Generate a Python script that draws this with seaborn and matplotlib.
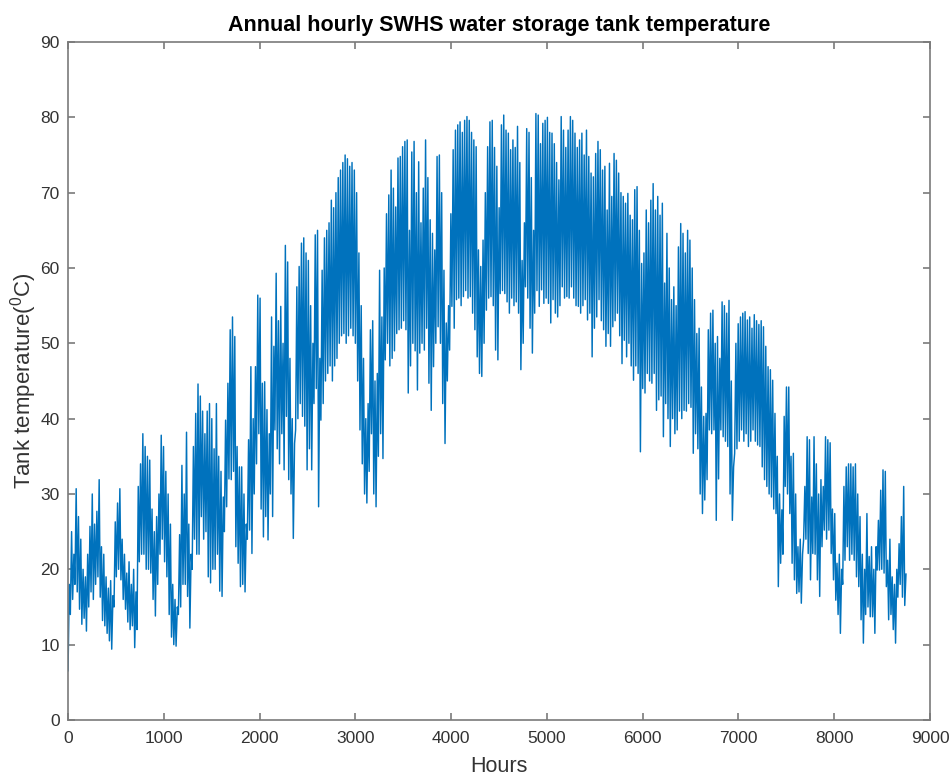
import numpy as np
import pandas as pd
import matplotlib
matplotlib.use("Agg")
import matplotlib.pyplot as plt
import seaborn as sns

# Daily peak and trough of the storage tank temperature (deg C), one entry per day
day_max = [
    18, 25, 22, 30.7, 27, 24, 20, 19, 22, 25.7,
    30, 26, 27.7, 31.9, 23, 22, 19, 17.5, 18.5, 16.5,
    26.3, 28.8, 30.7, 24, 22, 19.5, 21, 18, 20, 17,
    31, 34, 38, 36.3, 35, 34.5, 28, 25, 27, 30,
    37.8, 36.3, 33, 30, 26, 18, 16, 15, 24.6, 33.8,
    30, 38.2, 26, 22, 36.3, 40.7, 44.6, 43, 41, 38,
    41, 42, 40, 36, 42, 35, 33, 29.6, 39.8, 44.7,
    51.8, 53.5, 50.9, 36.3, 33.6, 33.6, 30, 26, 37.2, 46.9,
    40, 46.9, 56.4, 56, 44.7, 44.9, 41.2, 38, 53.5, 49.6,
    59.3, 53, 54.9, 50, 63, 60.8, 48, 40, 36.7, 57.5,
    60.2, 63.3, 64, 62, 61, 55, 50, 64.4, 65, 48,
    59.7, 64, 65, 66, 69, 68, 70, 72, 73, 74,
    75, 74.5, 73.5, 74, 73, 70, 62, 55, 48, 40,
    42, 51.8, 53, 45, 46, 59.7, 53.5, 60, 67.2, 69.7,
    73, 70.6, 68.1, 74.6, 74.8, 76.1, 76.8, 77, 65, 75.4,
    76.8, 70, 74.1, 66, 70.6, 77, 72, 66.4, 64.6, 62.4,
    74.8, 75, 70, 59.7, 52.7, 55, 67.2, 75.7, 78.3, 79,
    79.4, 78, 79.6, 80.1, 79.6, 78, 77, 76.1, 62.4, 60.2,
    63.7, 70, 76.1, 79.4, 79.6, 76, 73.5, 68, 79, 80.3,
    78.3, 77.9, 75.7, 77, 76, 78.8, 74, 61, 66, 78.5,
    78, 72, 65, 80.5, 80.3, 76.5, 79.2, 79.6, 80, 78,
    77.9, 76.5, 74, 71.7, 80.1, 78.3, 76, 78.3, 80.1, 79.6,
    77.9, 76, 77, 77.9, 75, 78.3, 74.8, 72.6, 72.1, 75.2,
    76.8, 75.7, 73, 73.5, 67.7, 73.9, 69.5, 75.2, 74.3, 72.6,
    70, 69.5, 68.6, 69.9, 67, 66.4, 70.4, 70.8, 65, 60.6,
    62, 67.7, 66, 69, 71.2, 67.7, 69.5, 67, 68.6, 58,
    64.6, 60, 55.8, 57.5, 55, 62.8, 65.9, 64.6, 62, 65,
    63.7, 60, 55.8, 51.3, 52, 44.2, 40.3, 40.7, 51.8, 54,
    54.4, 50, 50.9, 48, 55.5, 55, 54, 55.7, 45, 33.6,
    50, 52.6, 53.5, 54, 54.2, 53.1, 53.5, 52, 53.8, 53,
    52.5, 53, 52.2, 49.6, 46.9, 46.5, 45.1, 40.7, 35, 30,
    27.9, 40.3, 44.2, 44.2, 35, 35.4, 30, 23, 24, 22,
    31, 37.6, 37.2, 29.6, 37.6, 34, 30, 31.9, 31, 37.6,
    37.2, 36.8, 28, 27.4, 20.8, 22, 20, 31, 33.6, 34,
    34, 33.6, 34, 30, 27, 22, 20, 27.4, 21.7, 23,
    20, 23, 26.5, 30.5, 33.2, 33, 21.2, 24, 19, 18,
    20, 23.4, 27, 31, 19.4,
]

day_min = [
    6.5, 14, 16, 18, 17, 14.7, 12.7, 13.5, 11.8, 15,
    17, 16, 18, 19, 16.3, 13.2, 12.5, 11.5, 10.5, 9.4,
    15, 19, 20, 18.6, 16, 14.7, 13, 12, 12.5, 9.6,
    12, 21, 22, 22, 20, 20, 19.5, 16, 13.8, 18,
    22, 24, 21, 19, 14, 11, 10, 9.8, 14, 15,
    18, 18, 16.4, 12.2, 20, 24, 22, 22, 27, 24,
    25, 19, 18.2, 20, 20, 22, 17.1, 16.4, 25, 28.3,
    32, 31.9, 33, 23, 20.8, 17.7, 18, 17, 24, 25.2,
    22.1, 30, 34, 38, 28, 24.3, 27, 23.9, 30, 27,
    38.5, 36, 34, 38, 33.2, 40.3, 31.9, 30, 24.1, 38.5,
    40, 42, 40.3, 39, 33.2, 36, 33.2, 42, 44, 28.3,
    39.8, 42, 45, 46, 47, 45, 47, 48, 50, 51,
    51.3, 50, 51, 52, 51, 50, 45, 38.5, 34, 30,
    28.8, 33, 38, 30, 28.3, 35, 38, 34.7, 47.8, 50,
    47, 48, 49, 51.3, 51.8, 52, 53, 51.8, 43.4, 47,
    50, 49, 43.8, 48.7, 50, 49.1, 52, 44.7, 41.1, 46.9,
    50, 52.2, 50, 42, 36.7, 45, 49.1, 54.9, 52, 55.8,
    56, 55, 56.2, 57, 56, 56.2, 54, 51.8, 48.2, 46,
    45.6, 50, 54.4, 56, 56.2, 55, 49.1, 47.8, 56.6, 57,
    56.6, 55.5, 54, 56, 55, 55.5, 54, 46.5, 50, 57.5,
    56, 52, 48.7, 54, 57, 54.9, 57.1, 55.3, 56, 55.3,
    52.7, 55.8, 54, 53.5, 55, 57.5, 56, 56.2, 56, 57.5,
    56, 55, 54.9, 54, 55, 55.8, 53.1, 54, 48.2, 52,
    53.5, 55.8, 53, 51.8, 49.6, 51.3, 49.6, 52.2, 53, 54,
    51, 47.3, 50.4, 48.2, 50, 47, 45.1, 47, 46, 35.6,
    44, 43.4, 46, 45, 44.7, 46, 41.1, 42.5, 43, 37.6,
    42, 40, 36.3, 40, 38, 38.5, 41, 40, 41.1, 41,
    42, 41.5, 35.4, 38, 36, 30, 27.4, 29.2, 31.9, 38.5,
    38, 38.5, 26.5, 32, 38.5, 37.6, 37, 36.3, 30, 26.5,
    35.4, 36, 37, 38.5, 37, 38, 36.3, 37, 38.5, 37,
    36.5, 36.3, 33.6, 31.9, 31, 30, 29.6, 28, 27.4, 17.7,
    20.8, 22, 31, 30, 27.4, 20.8, 18.6, 16.8, 17, 15.5,
    23.9, 24, 22.1, 18.6, 22.1, 22, 18.6, 16.4, 23, 25.2,
    24, 25.2, 22.1, 18.6, 15.9, 14, 11.5, 18, 21.2, 23,
    21.2, 22, 21.2, 19, 17.7, 13.3, 10.2, 14, 15, 13.7,
    13.7, 11.5, 19.9, 19.9, 20, 19.5, 17.7, 13.3, 14, 12,
    10.2, 16.3, 18, 16.3, 15.2,
]

x_ticks = [0, 1000, 2000, 3000, 4000, 5000, 6000, 7000, 8000, 9000]
y_ticks = [0, 10, 20, 30, 40, 50, 60, 70, 80, 90]

# Hourly series: overnight trough at the start of each day, afternoon peak later on
hours, temps = [], []
for d, (lo, hi) in enumerate(zip(day_min, day_max)):
    hours += [24 * d, 24 * d + 13]
    temps += [lo, hi]
df = pd.DataFrame({"Hours": hours, "Temp": temps})

sns.set_style("white")
plt.rcParams["font.family"] = ["Liberation Sans", "DejaVu Sans"]
plt.rcParams["mathtext.fontset"] = "custom"
plt.rcParams["mathtext.rm"] = "Liberation Sans"

fig = plt.figure(figsize=(9.53, 7.76), dpi=100)
ax = fig.add_axes([0.0714, 0.0722, 0.9045, 0.8737])

sns.lineplot(data=df, x="Hours", y="Temp", ax=ax, color="#0072BD",
             linewidth=1.05, estimator=None, sort=False)

ax.set_xlim(0, 9000)
ax.set_ylim(0, 90)
ax.set_xticks(x_ticks)
ax.set_yticks(y_ticks)
ax.set_xticklabels([str(v) for v in x_ticks])
ax.set_yticklabels([str(v) for v in y_ticks])

text_gray = "#333333"
frame_gray = "#7a7a7a"
for s in ax.spines.values():
    s.set_visible(True)
    s.set_color(frame_gray)
    s.set_linewidth(1.2)
ax.tick_params(direction="in", length=5, width=1.2, color=frame_gray,
               labelcolor=text_gray, labelsize=12.5, top=True, right=True,
               bottom=True, left=True)
ax.tick_params(axis="x", pad=8)
ax.tick_params(axis="y", pad=6)

ax.set_xlabel("Hours", fontsize=15.5, color=text_gray, labelpad=7)
ax.set_ylabel("Tank temperature($^0$C)", fontsize=16, color=text_gray, labelpad=1)
ax.set_title("Annual hourly SWHS water storage tank temperature",
             fontsize=15.5, fontweight="bold", color="black", pad=8)

fig.savefig("out.png", dpi=100)
